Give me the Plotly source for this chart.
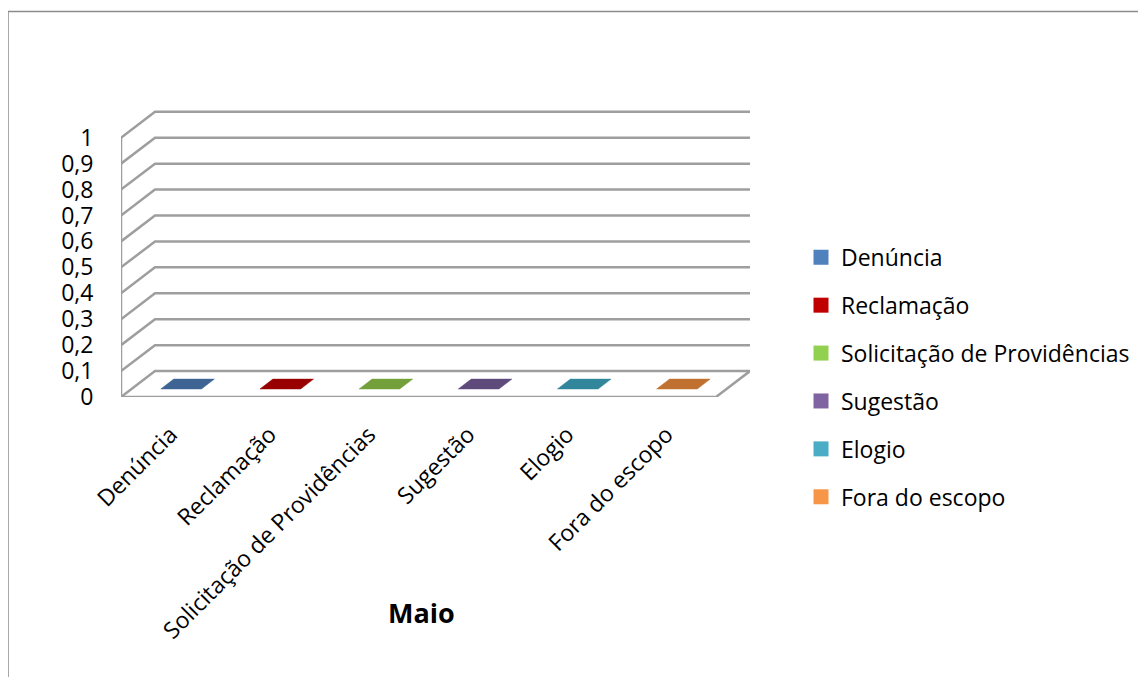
import plotly.graph_objects as go

# ---------------- data ----------------
categories = ["Denúncia", "Reclamação", "Solicitação de Providências",
              "Sugestão", "Elogio", "Fora do escopo"]
values = [0, 0, 0, 0, 0, 0]
series_names = ["Denúncia", "Reclamação", "Solicitação de Providências",
                "Sugestão", "Elogio", "Fora do escopo"]
y_ticks = [0, 0.1, 0.2, 0.3, 0.4, 0.5, 0.6, 0.7, 0.8, 0.9, 1]
y_tick_labels = ["0", "0,1", "0,2", "0,3", "0,4", "0,5", "0,6", "0,7", "0,8", "0,9", "1"]
chart_title = "Maio"

legend_colors = ["#4F81BD", "#C00000", "#92D050", "#8064A2", "#4BACC6", "#F79646"]
bar_top_colors = ["#3E6494", "#980000", "#73A03A", "#5F4A7C", "#31869C", "#C0712F"]

# ---------------- geometry / style ----------------
W, H = 1146, 677
OFF = 8                                      # page body margin
PL, PR, PB = 121, 750, 397                   # plot area (page pixels)
PX_PER_UNIT = 259.0                          # value axis scale
Y_MAX = 1.4
PT = PB - Y_MAX * PX_PER_UNIT
DX = 0.343                                   # depth offset (category units)
DY = 0.1                                     # depth offset (value units)
GRID = "#9E9E9E"
FONT = "'Open Sans', 'Noto Sans', sans-serif"
FS = 23
BAR_W = 0.41
BAR_D0, BAR_D1 = 0.31, 0.69

def proj(i, v, f):
    return i + f * DX, v + f * DY

fig = go.Figure()

# back wall + side wall grid lines
gx, gy = [], []
for v in y_ticks:
    for (i, f) in [(-0.5, 0), (-0.5, 1), (len(categories) - 0.5, 1)]:
        x, y = proj(i, v, f)
        gx.append(x); gy.append(y)
    gx.append(None); gy.append(None)
fig.add_trace(go.Scatter(x=gx, y=gy, mode="lines", line=dict(color=GRID, width=2.5),
                         hoverinfo="skip", showlegend=False))

# front vertical axis line and floor front/right edges
fx, fy = [], []
for (i, v, f) in [(-0.5, y_ticks[-1], 0), (-0.5, 0, 0),
                  (len(categories) - 0.5, 0, 0), (len(categories) - 0.5, 0, 1)]:
    x, y = proj(i, v, f)
    fx.append(x); fy.append(y)
fig.add_trace(go.Scatter(x=fx, y=fy, mode="lines", line=dict(color=GRID, width=2.5),
                         hoverinfo="skip", showlegend=False))

# bars (top faces of 3D columns, height = value)
for i, (cat, val, col) in enumerate(zip(categories, values, bar_top_colors)):
    pts = [proj(i - BAR_W / 2, val, BAR_D0), proj(i + BAR_W / 2, val, BAR_D0),
           proj(i + BAR_W / 2, val, BAR_D1), proj(i - BAR_W / 2, val, BAR_D1),
           proj(i - BAR_W / 2, val, BAR_D0)]
    fig.add_trace(go.Scatter(x=[p[0] for p in pts], y=[p[1] for p in pts],
                             mode="lines", fill="toself", fillcolor=col,
                             line=dict(color=col, width=0.5),
                             name=cat, hoverinfo="name", showlegend=False))

# legend entries
for k, (name, col) in enumerate(zip(series_names, legend_colors)):
    fig.add_trace(go.Scatter(x=[None], y=[None], mode="markers",
                             marker=dict(symbol="square", size=15, color=col),
                             name=name, legendgroup=f"g{k}", showlegend=True))

pw, ph = PR - PL, PB - PT
def px2paper(x, y):
    return (x - PL) / pw, (PB - y) / ph

# outer chart border
bx0, by0 = px2paper(8, 12)
bx1, by1 = px2paper(W + 30, H + 30)
fig.add_shape(type="rect", xref="paper", yref="paper", x0=bx0, y0=by1, x1=bx1, y1=by0,
              line=dict(color="#8C8C8C", width=1.5), fillcolor="rgba(0,0,0,0)", layer="below")

tx, ty = px2paper(421, 612)
fig.add_annotation(text=f"<b>{chart_title}</b>", xref="paper", yref="paper", x=tx, y=ty,
                   showarrow=False, font=dict(family=FONT, size=27, color="#000000"),
                   xanchor="center", yanchor="middle")

lx, ly = px2paper(801, 236)
fig.update_layout(
    width=W, height=H,
    margin=dict(l=PL - OFF, r=W - PR + OFF, t=PT - OFF, b=H - PB + OFF, autoexpand=False),
    paper_bgcolor="white", plot_bgcolor="white",
    font=dict(family=FONT, size=FS, color="#000000"),
    xaxis=dict(range=[-0.5, len(categories) - 0.5 + DX], tickmode="array",
               tickvals=list(range(len(categories))), ticktext=categories,
               tickangle=-45, showgrid=False, zeroline=False, showline=False,
               ticks="outside", ticklen=14, tickcolor="rgba(0,0,0,0)",
               tickfont=dict(family=FONT, size=FS),
               automargin=False, fixedrange=True),
    yaxis=dict(range=[0, Y_MAX], tickmode="array", tickvals=y_ticks, ticktext=y_tick_labels,
               showgrid=False, zeroline=False, showline=False,
               ticks="outside", ticklen=22, tickcolor="rgba(0,0,0,0)",
               tickfont=dict(family=FONT, size=FS),
               automargin=False, fixedrange=True),
    legend=dict(x=lx, y=ly, xanchor="left", yanchor="top", tracegroupgap=15,
                font=dict(family=FONT, size=FS, color="#000000"),
                bgcolor="rgba(0,0,0,0)", borderwidth=0, itemclick=False),
    showlegend=True,
)

fig.write_html("out.html")
